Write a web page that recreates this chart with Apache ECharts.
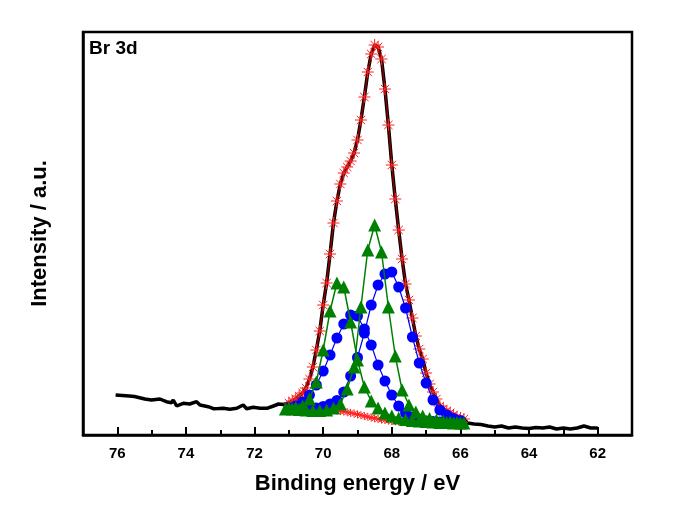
<!DOCTYPE html>
<html>
<head>
<meta charset="utf-8">
<script src="https://cdn.jsdelivr.net/npm/echarts@6/dist/echarts.min.js"></script>
<style>html,body{margin:0;padding:0;background:#fff}#c{width:685px;height:512px}</style>
</head>
<body>
<div id="c"></div>
<script>
// ---- tick labels ----
const majorTicks = [62, 64, 66, 68, 70, 72, 74, 76];
const minorTicks = [63, 65, 67, 69, 71, 73, 75];

// ---- raw spectrum (black) ----
const rawLeftBE = [76.05,75.85,75.65,75.5,75.35,75.2,75.0,74.76,74.57,74.42,74.37,74.27,74.08,73.89,73.69,73.59,73.35,73.2,73.05,72.91,72.72,72.52,72.33,72.23,72.04,71.84,71.64,71.45,71.3,71.15];
const rawLeftI  = [40,39.5,39,38.5,37.3,36,35,36,33.3,32.3,35,29,31.7,31,33.3,30,28.3,26.3,26.5,26.7,25.7,26.7,30,26.3,27.7,26.7,26.7,29,31,30.5];
const rawRightBE = [65.8,65.6,65.4,65.2,65.0,64.8,64.6,64.4,64.2,64.0,63.8,63.6,63.4,63.2,63.0,62.8,62.6,62.4,62.2,62.0];
const rawRightI  = [12,11,10.5,9,8,9,7,8,7,6.5,7.5,7,8,6,7,6,7,9,7,7];

// ---- fitted envelope (red asterisks) ----
const envBE = [71.0,70.9,70.8,70.7,70.6,70.5,70.4,70.3,70.2,70.1,70.0,69.9,69.8,69.7,69.6,69.5,69.4,69.3,69.2,69.1,69.0,68.9,68.8,68.7,68.6,68.5,68.4,68.3,68.2,68.1,68.0,67.9,67.8,67.7,67.6,67.5,67.4,67.3,67.2,67.1,67.0,66.9,66.8,66.7,66.6,66.5,66.4,66.3,66.2,66.1,66.0,65.9];
const envI  = [32,34,36,39,42,47,56,68,85,104,130,152,181,212,234,251,262,268,274,282,295,315,338,363,381,390,388,376,346,310,270,236,205,176,151,135,117,99,86,76,62,51,43,36,29,26,24,22,20,18,17,16];

// ---- Shirley background (red) ----
const bgBE = [71.0,70.9,70.8,70.7,70.6,70.5,70.4,70.3,70.2,70.1,70.0,69.9,69.8,69.7,69.6,69.5,69.4,69.3,69.2,69.1,69.0,68.9,68.8,68.7,68.6,68.5,68.4,68.3,68.2,68.1,68.0,67.9,67.8,67.7,67.6,67.5,67.4,67.3,67.2,67.1,67.0,66.9,66.8,66.7,66.6,66.5,66.4,66.3,66.2,66.1,66.0];
const bgI  = [27,27,27,26.8,26.6,26.5,26.3,26.1,26,25.7,25.5,25.2,25,24.7,24.3,23.9,23.4,22.8,22.1,21.4,20.6,19.8,19,18.2,17.4,16.7,16,15.4,14.9,14.4,14,13.7,13.4,13.2,13,12.8,12.7,12.6,12.5,12.4,12.3,12.2,12.2,12.1,12.1,12,12,12,12,12,12];

// ---- components ----
const compBE = [71.0,70.8,70.6,70.4,70.2,70.0,69.8,69.6,69.4,69.2,69.0,68.8,68.6,68.4,68.2,68.0,67.8,67.6,67.4,67.2,67.0,66.8,66.6,66.4,66.2,66.0];
const blueA  = [26,26,26,26.5,27,28.5,31,34.5,43,59,77.5,102,130,150,161,163,148,127,98,72,52,35,25,20,16.5,14.5];
const blueB  = [27,29,33,40,50,64,80,97,111,120,119,106,90,70,54,40,29,22,18,15.5,14,13.5,13,12.5,12.5,12];
const greenB = [27,27.5,29,36,53,85,124,152,148,113,75,48,34,27,22,19,17,15.5,14.5,14,13.5,13,12.5,12.5,12,12];
const greenABE = [71.1,70.9,70.7,70.5,70.3,70.1,69.9,69.7,69.5,69.3,69.1,68.9,68.7,68.5,68.3,68.1,67.9,67.7,67.5,67.3,67.1,66.9,66.7,66.5,66.3,66.1,65.9];
const greenA   = [26,26,25.5,25,24.5,24.5,25,27,31,46,68,128,185,210,183,128,79,45,30,23,19,16.5,15,14,13,12.5,12];

const pairs = (xs, ys) => xs.map((x, i) => [x, ys[i]]);
const rawData = pairs(rawLeftBE, rawLeftI).concat(pairs(envBE, envI), pairs(rawRightBE, rawRightI));

const FONT = "'Liberation Sans', Arial, sans-serif";
const AST = 'path://M5,0L5,10M0,5L10,5M1.5,1.5L8.5,8.5M1.5,8.5L8.5,1.5';

const chart = echarts.init(document.getElementById('c'), null, {renderer: 'canvas'});
chart.setOption({
  animation: false,
  backgroundColor: '#fff',
  grid: {left: 83, right: 53, top: 32, bottom: 77, show: true, borderColor: '#000', borderWidth: 2.5, backgroundColor: 'transparent'},
  graphic: [{type: 'text', left: 89, top: 39, style: {text: 'Br 3d', font: 'bold 19px ' + FONT, fill: '#000'}}],
  xAxis: [{
    type: 'value', min: 61, max: 77, inverse: true, position: 'bottom',
    axisLine: {show: true, lineStyle: {color: '#000', width: 2.5}},
    axisTick: {show: true, inside: true, length: 8, customValues: majorTicks, lineStyle: {color: '#000', width: 2}},
    axisLabel: {show: true, customValues: majorTicks, margin: 11, color: '#000', fontFamily: FONT, fontWeight: 'bold', fontSize: 15},
    splitLine: {show: false},
    name: 'Binding energy / eV', nameLocation: 'middle', nameGap: 38,
    nameTextStyle: {color: '#000', fontFamily: FONT, fontWeight: 'bold', fontSize: 22}
  }, {
    type: 'value', min: 61, max: 77, inverse: true, position: 'bottom', offset: 0,
    axisLine: {show: false},
    axisTick: {show: true, inside: true, length: 5, customValues: minorTicks, lineStyle: {color: '#000', width: 2}},
    axisLabel: {show: false},
    splitLine: {show: false}
  }],
  yAxis: {
    type: 'value', min: 0, max: 403,
    axisLine: {show: true, lineStyle: {color: '#000', width: 2.5}},
    axisTick: {show: false}, axisLabel: {show: false}, splitLine: {show: false},
    name: 'Intensity / a.u.', nameLocation: 'middle', nameGap: 32, nameRotate: 90,
    nameTextStyle: {color: '#000', fontFamily: FONT, fontWeight: 'bold', fontSize: 22}
  },
  series: [
    {type: 'line', name: 'raw', data: rawData, showSymbol: false, symbol: 'none',
     lineStyle: {color: '#000', width: 3.5}, z: 2},
    {type: 'line', name: 'envelope', data: pairs(envBE, envI), symbol: AST, symbolSize: 12,
     itemStyle: {color: '#ff2020', borderColor: '#ff2020', borderWidth: 1},
     lineStyle: {color: '#8b0000', width: 1.5}, z: 3},
    {type: 'line', name: 'background', data: pairs(bgBE, bgI), symbol: AST, symbolSize: 8,
     itemStyle: {color: '#ff2020', borderColor: '#ff2020', borderWidth: 1},
     lineStyle: {color: '#ff2020', width: 1}, z: 3},
    {type: 'line', name: 'blueA', data: pairs(compBE, blueA), symbol: 'circle', symbolSize: 11,
     itemStyle: {color: '#0000ff'}, lineStyle: {color: '#0000ff', width: 1.2}, z: 4},
    {type: 'line', name: 'blueB', data: pairs(compBE, blueB), symbol: 'circle', symbolSize: 11,
     itemStyle: {color: '#0000ff'}, lineStyle: {color: '#0000ff', width: 1.2}, z: 4},
    {type: 'line', name: 'greenA', data: pairs(greenABE, greenA), symbol: 'triangle', symbolSize: 13,
     itemStyle: {color: '#008000'}, lineStyle: {color: '#008000', width: 1.5}, z: 5},
    {type: 'line', name: 'greenB', data: pairs(compBE, greenB), symbol: 'triangle', symbolSize: 13,
     itemStyle: {color: '#008000'}, lineStyle: {color: '#008000', width: 1.5}, z: 5}
  ]
});
</script>
</body>
</html>
